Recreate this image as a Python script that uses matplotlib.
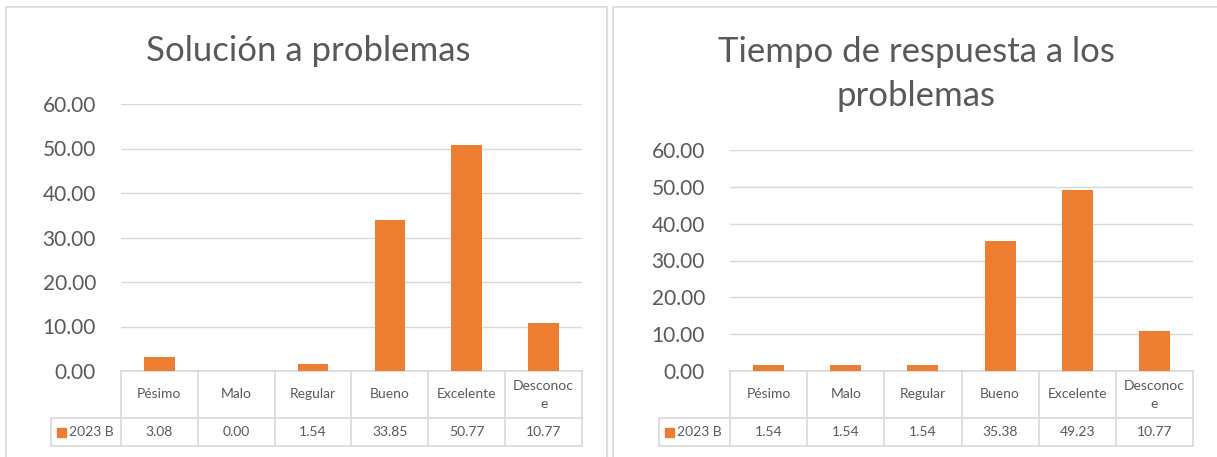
import matplotlib.pyplot as plt
from matplotlib.patches import Rectangle
from matplotlib.transforms import blended_transform_factory

# Data
categories = ["Pésimo", "Malo", "Regular", "Bueno", "Excelente", "Desconoce"]
cat_labels = ["Pésimo", "Malo", "Regular", "Bueno", "Excelente", "Desconoc\ne"]
series_name = "2023 B"
solucion = [3.08, 0.00, 1.54, 33.85, 50.77, 10.77]
tiempo = [1.54, 1.54, 1.54, 35.38, 49.23, 10.77]
titles = ["Solución a problemas", "Tiempo de respuesta a los\nproblemas"]
yticks = [0, 10, 20, 30, 40, 50, 60]

ORANGE = "#ED7D31"
TEXT = "#595959"
GRID = "#D9D9D9"
FONT = "Lato"

W, H = 1217, 457
fig = plt.figure(figsize=(W / 100, H / 100), dpi=100)
fig.patch.set_facecolor("white")


def fx(px):
    return px / W


def fy(py):
    return 1 - py / H


# pixel layout for each chart panel
panels = [
    dict(frame=(6, 7, 607, 470), plot=(121, 104, 582, 371), legend_left=51,
         title_xy=(308, 51), values=solucion, title=titles[0]),
    dict(frame=(613, 7, 1225, 470), plot=(730, 150, 1193, 371), legend_left=659,
         title_xy=(916, 74), values=tiempo, title=titles[1]),
]

row1_bottom, row2_bottom = 418, 446

for p in panels:
    # chart frame
    x0, y0, x1, y1 = p["frame"]
    fig.patches.append(Rectangle((fx(x0), fy(y1)), fx(x1 - x0), (y1 - y0) / H,
                                 transform=fig.transFigure, fill=False,
                                 edgecolor=GRID, lw=1.2))

    px0, py0, px1, py1 = p["plot"]
    ax = fig.add_axes([fx(px0), fy(py1), fx(px1 - px0), (py1 - py0) / H])
    xs = range(len(categories))
    ax.bar(xs, p["values"], width=0.4, color=ORANGE, zorder=3)
    ax.set_xlim(-0.5, len(categories) - 0.5)
    ax.set_ylim(0, 60)
    ax.set_yticks(yticks)
    ax.set_yticklabels([f"{t:.2f}" for t in yticks], fontsize=15,
                       color=TEXT, family=FONT)
    ax.set_xticks([])
    ax.tick_params(axis="y", length=0, pad=18)
    ax.grid(axis="y", color=GRID, lw=1, zorder=0)
    for s in ["left", "right", "top"]:
        ax.spines[s].set_visible(False)
    ax.spines["bottom"].set_color(GRID)
    ax.spines["bottom"].set_linewidth(1.2)

    # data table under the axis
    trans = blended_transform_factory(ax.transData, fig.transFigure)
    for i in range(len(categories) + 1):
        ax.plot([i - 0.5, i - 0.5], [fy(py1), fy(row2_bottom)], color=GRID,
                lw=1.2, transform=trans, clip_on=False)
    for yy in (row1_bottom, row2_bottom):
        ax.plot([fx(p["legend_left"]), fx(px1)], [fy(yy), fy(yy)], color=GRID,
                lw=1.2, transform=fig.transFigure, clip_on=False)
    ax.plot([fx(p["legend_left"])] * 2, [fy(row1_bottom), fy(row2_bottom)],
            color=GRID, lw=1.2, transform=fig.transFigure, clip_on=False)

    for i, (lab, v) in enumerate(zip(cat_labels, p["values"])):
        ax.text(i, fy((py1 + row1_bottom) / 2), lab, transform=trans,
                ha="center", va="center", fontsize=10, color=TEXT,
                family=FONT, linespacing=1.6)
        ax.text(i, fy((row1_bottom + row2_bottom) / 2), f"{v:.2f}",
                transform=trans, ha="center", va="center", fontsize=10,
                color=TEXT, family=FONT)

    # legend key inside the table
    lx = p["legend_left"]
    fig.patches.append(Rectangle((fx(lx + 6), fy(437)), fx(9), 9 / H,
                                 transform=fig.transFigure, color=ORANGE))
    fig.text(fx(lx + 18), fy((row1_bottom + row2_bottom) / 2), series_name,
             ha="left", va="center", fontsize=10, color=TEXT, family=FONT)

    # title
    tx, ty = p["title_xy"]
    fig.text(fx(tx), fy(ty), p["title"], ha="center", va="center",
             fontsize=25, color=TEXT, family=FONT, linespacing=1.5)

fig.savefig("out.png", dpi=100, facecolor="white")
